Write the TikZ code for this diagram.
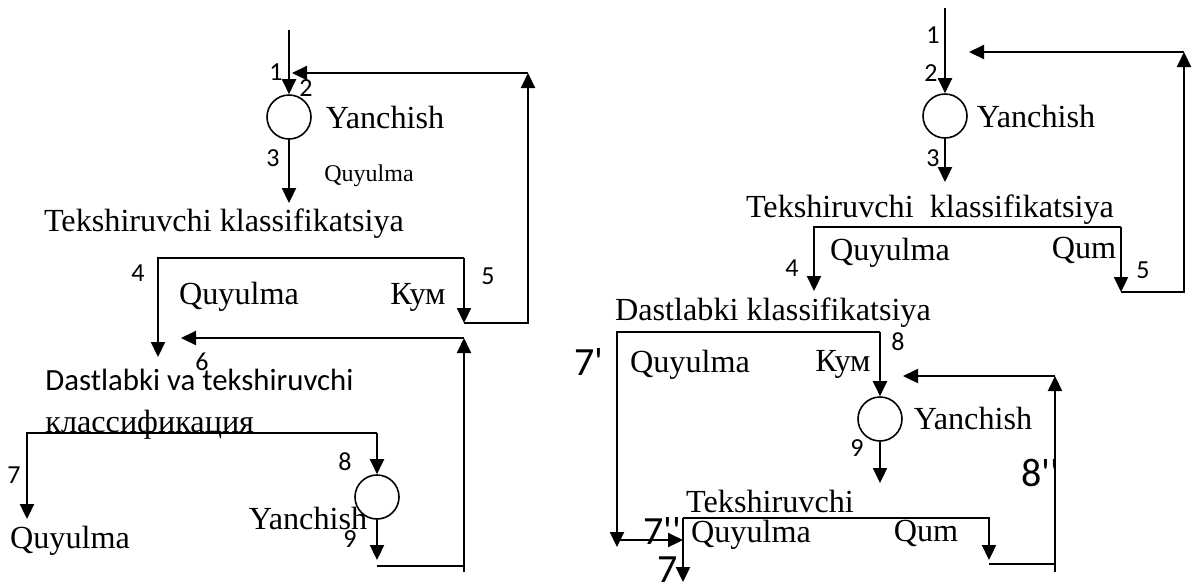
\documentclass[tikz,border=0pt]{standalone}
\usepackage{fontspec}
\setmainfont{Liberation Serif}
\newfontfamily\numfont{Carlito}[Ligatures=TeXOff]
\usetikzlibrary{arrows.meta}
\begin{document}
\begin{tikzpicture}[x=0.5pt,y=-0.5pt,
  line/.style={line width=1.1pt},
  flow/.style={line width=1.1pt,-{Triangle[length=7.5pt,width=7pt]}},
  mill/.style={circle,draw,line width=0.8pt,minimum size=22pt,inner sep=0pt},
  txt/.style={font=\fontsize{16.1}{19}\selectfont,inner sep=0pt},
  small/.style={font=\fontsize{12}{14}\selectfont,inner sep=0pt},
  num/.style={font=\numfont\fontsize{13}{15}\selectfont,inner sep=0pt},
  big/.style={font=\numfont\fontsize{20}{24}\selectfont,inner sep=0pt},
  sans/.style={font=\numfont\fontsize{15.4}{18}\selectfont,inner sep=0pt}]
\useasboundingbox (0,0) rectangle (1194,586);

% ================= LEFT =================
\node[mill] (m1) at (289,117) {};
\coordinate (in1) at (289,30);
\draw[flow] (in1) -- (m1.north);
\node[num] (l1) at (276,72) {1};
\node[num] (l2) at (306,88) {2};
\node[txt] (y1) at (385,117) {Yanchish};
\node[num] (l3) at (273,158) {3};
\coordinate (t1) at (289,203);
\draw[flow] (m1.south) -- (t1);
\node[small] (q1) at (369,176) {Quyulma};
\node[txt] (tk1) at (224,224) {Tekshiruvchi klassifikatsiya};

\coordinate (b1l) at (158,258);
\coordinate (b1r) at (464,258);
\coordinate (b1lt) at (158,357);
\coordinate (b1rt) at (464,323);
\draw[flow] (b1r) -- (b1l) -- (b1lt);
\draw[flow] (b1r) -- (b1rt);
\node[num] (l4) at (138,273) {4};
\node[num] (l5) at (488,276) {5};
\node[txt] (q2) at (239,297) {Quyulma};
\node[txt] (k1) at (418,297) {Кум};

\coordinate (r1b) at (528,323);
\coordinate (r1c) at (528,73);
\coordinate (r1d) at (292,73);
\draw[flow] (b1rt) -- (r1b) -- (r1c);
\draw[flow] (r1c) -- (r1d);

\coordinate (r6a) at (464,572);
\coordinate (r6b) at (464,338);
\coordinate (r6c) at (181,338);
\draw[flow] (r6a) -- (r6b);
\draw[flow] (r6b) -- (r6c);
\node[num] (l6) at (202,362) {6};

\node[sans,anchor=west] (dt) at (45,380) {Dastlabki va tekshiruvchi};
\node[txt,anchor=base west] (kl) at (45,432) {классификация};

\node[mill] (m2) at (377,497) {};
\coordinate (b2l) at (27,433);
\coordinate (b2r) at (377,433);
\coordinate (b2lt) at (27,519);
\draw[flow] (b2r) -- (b2l) -- (b2lt);
\draw[flow] (b2r) -- (m2.north);
\node[num] (l7) at (14,475) {7};
\node[txt] (q3) at (70,541) {Quyulma};
\node[num] (l8) at (345,462) {8};
\node[txt] (y2) at (308,518) {Yanchish};
\node[num] (l9) at (350,539) {9};
\coordinate (t9) at (377,560);
\draw[flow] (m2.south) -- (t9);
\coordinate (bh1) at (377,566);
\coordinate (bh2) at (464,566);
\draw[line] (bh1) -- (bh2);

% ================= RIGHT =================
\node[mill] (m3) at (945,116) {};
\coordinate (in3) at (945,8);
\draw[flow] (in3) -- (m3.north);
\node[num] (rl1) at (933,35) {1};
\node[num] (rl2) at (931,73) {2};
\node[txt] (y3) at (1036,116) {Yanchish};
\node[num] (rl3) at (933,158) {3};
\coordinate (t3) at (945,182);
\draw[flow] (m3.south) -- (t3);
\node[txt] (tk3) at (930,210) {Tekshiruvchi\ \ klassifikatsiya};

\coordinate (b3l) at (814,227);
\coordinate (b3r) at (1121,227);
\coordinate (b3lt) at (814,291);
\coordinate (b3rt) at (1121,292);
\draw[flow] (b3r) -- (b3l) -- (b3lt);
\draw[flow] (b3r) -- (b3rt);
\node[txt] (q4) at (890,253) {Quyulma};
\node[txt] (qm1) at (1084,250) {Qum};
\node[num] (rl4) at (792,268) {4};
\node[num] (rl5) at (1143,270) {5};
\coordinate (r3b) at (1184,292);
\coordinate (r3c) at (1184,52);
\coordinate (r3d) at (969,52);
\draw[flow] (b3rt) -- (r3b) -- (r3c);
\draw[flow] (r3c) -- (r3d);

\node[txt] (dk) at (773,313) {Dastlabki klassifikatsiya};
\node[mill] (m4) at (880,419) {};
\coordinate (b4l) at (617,332);
\coordinate (b4r) at (880,332);
\coordinate (b4lt) at (617,547);
\draw[flow] (b4r) -- (b4l) -- (b4lt);
\draw[flow] (b4r) -- (m4.north);
\node[num] (rl8) at (898,342) {8};
\node[txt] (q5) at (690,365) {Quyulma};
\node[txt] (k2) at (843,364) {Кум};
\node[big] (l7p) at (589,362) {7'};
\node[txt] (y4) at (973,418) {Yanchish};
\node[num] (rl9) at (857,448) {9};
\coordinate (t4) at (880,483);
\draw[flow] (m4.south) -- (t4);

\coordinate (r8a) at (1055,572);
\coordinate (r8b) at (1055,376);
\coordinate (r8c) at (903,376);
\draw[flow] (r8a) -- (r8b);
\draw[flow] (r8b) -- (r8c);
\node[big] (l8pp) at (1040,473) {8''};

\node[txt] (tk5) at (770,501) {Tekshiruvchi};
\coordinate (b5l) at (683,518);
\coordinate (b5r) at (989,518);
\coordinate (b5lt) at (683,582);
\coordinate (b5rt) at (989,560);
\draw[flow] (b5l) -- (b5r) -- (b5rt);
\draw[flow] (b5l) -- (b5lt);
\coordinate (bh3) at (989,564);
\coordinate (bh4) at (1055,564);
\draw[line] (bh3) -- (bh4);

\coordinate (h7a) at (617,540);
\coordinate (h7b) at (683,540);
\draw[flow] (h7a) -- (h7b);
\node[big] (l7pp) at (662,531) {7''};
\node[txt] (q6) at (751,535) {Quyulma};
\node[txt] (qm2) at (926,533) {Qum};
\node[big] (l7b) at (668,570) {7};
\end{tikzpicture}
\end{document}
